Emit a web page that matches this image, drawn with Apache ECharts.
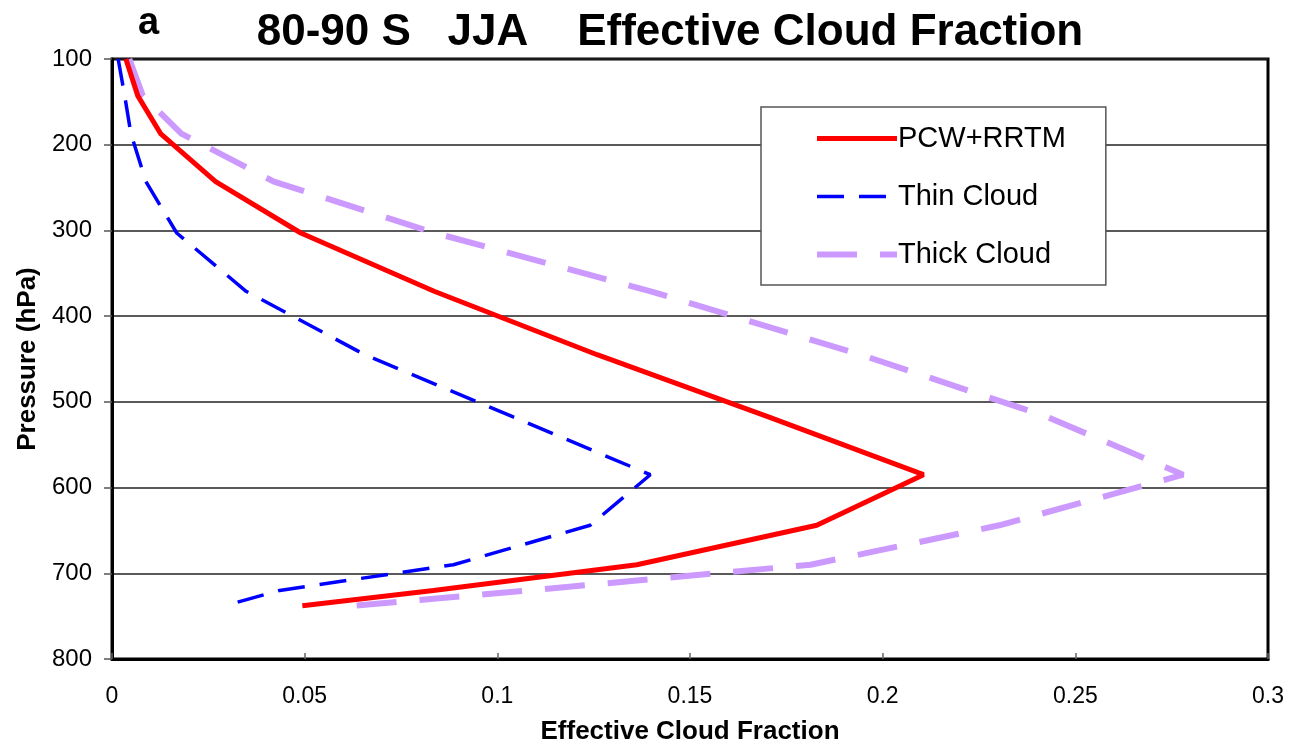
<!DOCTYPE html>
<html>
<head>
<meta charset="utf-8">
<script src="https://cdn.jsdelivr.net/npm/echarts@6/dist/echarts.min.js"></script>
<style>
  html, body { margin: 0; padding: 0; background: #fff; }
  #chart { width: 1297px; height: 748px; }
</style>
</head>
<body>
<div id="chart"></div>
<script>
// Pressure levels (hPa) shared by all three profiles
const pressureLevels = [100, 143, 187, 243, 303, 371, 445, 517, 585, 644, 690, 720, 738];

// Effective cloud fraction at each level
const pcwRrtm    = [0.0036, 0.0067, 0.0126, 0.0269, 0.0490, 0.0836, 0.1259, 0.1700, 0.2106, 0.1829, 0.1362, 0.0834, 0.0494];
const thinCloud  = [0.0016, 0.0033, 0.0049, 0.0088, 0.0168, 0.0348, 0.0656, 0.1038, 0.1397, 0.1241, 0.0886, 0.0435, 0.0292];
const thickCloud = [0.0045, 0.0080, 0.0180, 0.0420, 0.0838, 0.1398, 0.1943, 0.2424, 0.2780, 0.2303, 0.1813, 0.1080, 0.0626];

const seriesNames = ['PCW+RRTM', 'Thin Cloud', 'Thick Cloud'];
const xTicks = [0, 0.05, 0.1, 0.15, 0.2, 0.25, 0.3];
const yTicks = [100, 200, 300, 400, 500, 600, 700, 800];

const FONT = '"Liberation Sans", Arial, sans-serif';

// line looks shared by each series and its legend entry
const styles = [
  { color: '#ff0000', width: 5, type: 'solid' },
  { color: '#0000ff', width: 3.5, type: [27, 15] },
  { color: '#cc99ff', width: 6, type: [40, 23] }
];

function pairs(values) {
  return values.map((v, i) => [v, pressureLevels[i]]);
}

const chart = echarts.init(document.getElementById('chart'), null, { renderer: 'canvas' });

chart.setOption({
  backgroundColor: '#ffffff',
  animation: false,
  title: [
    {
      text: 'a',
      left: 133, top: 0,
      textStyle: { fontFamily: FONT, fontWeight: 'bold', fontSize: 38, color: '#000' }
    },
    {
      text: '80-90 S   JJA    Effective Cloud Fraction',
      left: 665, top: 6, textAlign: 'center',
      textStyle: { fontFamily: FONT, fontWeight: 'bold', fontSize: 44, color: '#000' }
    }
  ],
  grid: {
    left: 112, top: 59, right: 29, bottom: 89,
    outerBoundsMode: 'none',
    containLabel: false,
    show: true, borderColor: '#000', borderWidth: 3, backgroundColor: 'transparent'
  },
  legend: {
    data: seriesNames.map((name, i) => ({
      name,
      lineStyle: { color: styles[i].color, width: styles[i].width, type: styles[i].type, opacity: 1 },
      itemStyle: { opacity: 0 }
    })),
    orient: 'vertical',
    left: 761, top: 107,
    padding: [17, 40, 16, 53],
    itemGap: 29,
    itemWidth: 80, itemHeight: 26,
    backgroundColor: '#fff',
    borderColor: '#555', borderWidth: 1.5, borderRadius: 0,
    itemStyle: { opacity: 0 },
    textStyle: { fontFamily: FONT, fontSize: 29, color: '#000', padding: [0, 0, 0, -4] }
  },
  xAxis: {
    type: 'value',
    min: 0, max: 0.3, interval: 0.05,
    name: 'Effective Cloud Fraction',
    nameLocation: 'middle', nameGap: 60,
    nameTextStyle: { fontFamily: FONT, fontWeight: 'bold', fontSize: 26, color: '#000' },
    axisLine: { show: true, lineStyle: { color: '#000', width: 3 } },
    axisTick: { show: true, inside: true, length: 6, lineStyle: { color: '#666', width: 1.5 } },
    axisLabel: {
      fontFamily: FONT, fontSize: 23, color: '#000', margin: 26,
      formatter: v => {
        const t = xTicks.find(x => Math.abs(x - v) < 1e-9);
        return t === undefined ? '' : String(t);
      }
    },
    splitLine: { show: false }
  },
  yAxis: {
    type: 'value',
    inverse: true,
    min: 100, max: 800, interval: 100,
    name: 'Pressure (hPa)',
    nameLocation: 'middle', nameGap: 71, nameRotate: 90,
    nameTextStyle: { fontFamily: FONT, fontWeight: 'bold', fontSize: 26, color: '#000' },
    axisLine: { show: true, lineStyle: { color: '#000', width: 3 } },
    axisTick: { show: true, inside: false, length: 8, lineStyle: { color: '#555', width: 1.5 } },
    axisLabel: {
      fontFamily: FONT, fontSize: 24, color: '#000', margin: 20,
      formatter: v => (yTicks.includes(v) ? String(v) : '')
    },
    splitLine: { show: true, lineStyle: { color: '#222', width: 1.5 } }
  },
  series: [pcwRrtm, thinCloud, thickCloud].map((vals, i) => ({
    name: seriesNames[i],
    type: 'line',
    data: pairs(vals),
    symbol: 'none',
    z: 4 - i,
    lineStyle: { color: styles[i].color, width: styles[i].width, type: styles[i].type },
    itemStyle: { color: styles[i].color }
  }))
});
</script>
</body>
</html>
